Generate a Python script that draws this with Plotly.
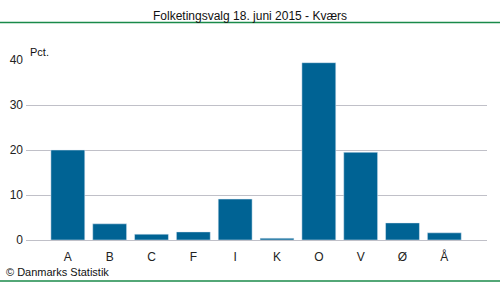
import plotly.graph_objects as go

categories = ["A", "B", "C", "F", "I", "K", "O", "V", "Ø", "Å"]
values = [20.0, 3.6, 1.3, 1.8, 9.1, 0.4, 39.4, 19.5, 3.8, 1.6]
y_ticks = [0, 10, 20, 30, 40]

W, H = 500, 282
L, R, T, B = 26, 13, 59.5, 42
pw, ph = W - L - R, H - T - B

def px_x(x):
    return (x - L) / pw

def px_y(y):
    return (H - B - y) / ph

fig = go.Figure(go.Bar(x=list(range(len(categories))), y=values,
                       marker_color="#006394", width=0.81))

font = "Liberation Sans, Arial, sans-serif"
fig.update_layout(
    width=W, height=H,
    margin=dict(l=L, r=R, t=T, b=B, autoexpand=False),
    plot_bgcolor="white", paper_bgcolor="white",
    showlegend=False,
    font=dict(family=font, size=11, color="#222222"),
    xaxis=dict(range=[-1.0, 10.02], tickmode="array",
               tickvals=list(range(len(categories))), ticktext=categories,
               showgrid=False, showline=False, zeroline=False, ticks="",
               ticklabelstandoff=8, fixedrange=True, automargin=False,
               tickfont=dict(size=12)),
    yaxis=dict(range=[0, 40], tickvals=y_ticks, showgrid=True,
               gridcolor="#c0c0c8", gridwidth=1, zeroline=True,
               zerolinecolor="#c0c0c8", zerolinewidth=1, ticks="",
               showline=False, ticklabelstandoff=2, automargin=False,
               tickfont=dict(size=12)),
    shapes=[
        dict(type="line", xref="paper", yref="paper", x0=px_x(0), x1=px_x(W),
             y0=px_y(22), y1=px_y(22), line=dict(color="#1a8a4a", width=1.5)),
        dict(type="line", xref="paper", yref="paper", x0=px_x(0), x1=px_x(W),
             y0=px_y(281), y1=px_y(281), line=dict(color="#1a8a4a", width=1.5)),
    ],
    annotations=[
        dict(text="Folketingsvalg 18. juni 2015 - Kværs", xref="paper", yref="paper",
             x=px_x(250), y=px_y(15), xanchor="center", yanchor="middle",
             showarrow=False, font=dict(size=12, color="#111111")),
        dict(text="Pct.", xref="paper", yref="paper", x=px_x(28), y=px_y(51),
             xanchor="left", yanchor="middle", showarrow=False,
             font=dict(size=11, color="#111111")),
        dict(text="© Danmarks Statistik", xref="paper", yref="paper", x=px_x(4),
             y=px_y(272), xanchor="left", yanchor="middle", showarrow=False,
             font=dict(size=11, color="#111111")),
    ],
)

fig.write_html("out.html")
